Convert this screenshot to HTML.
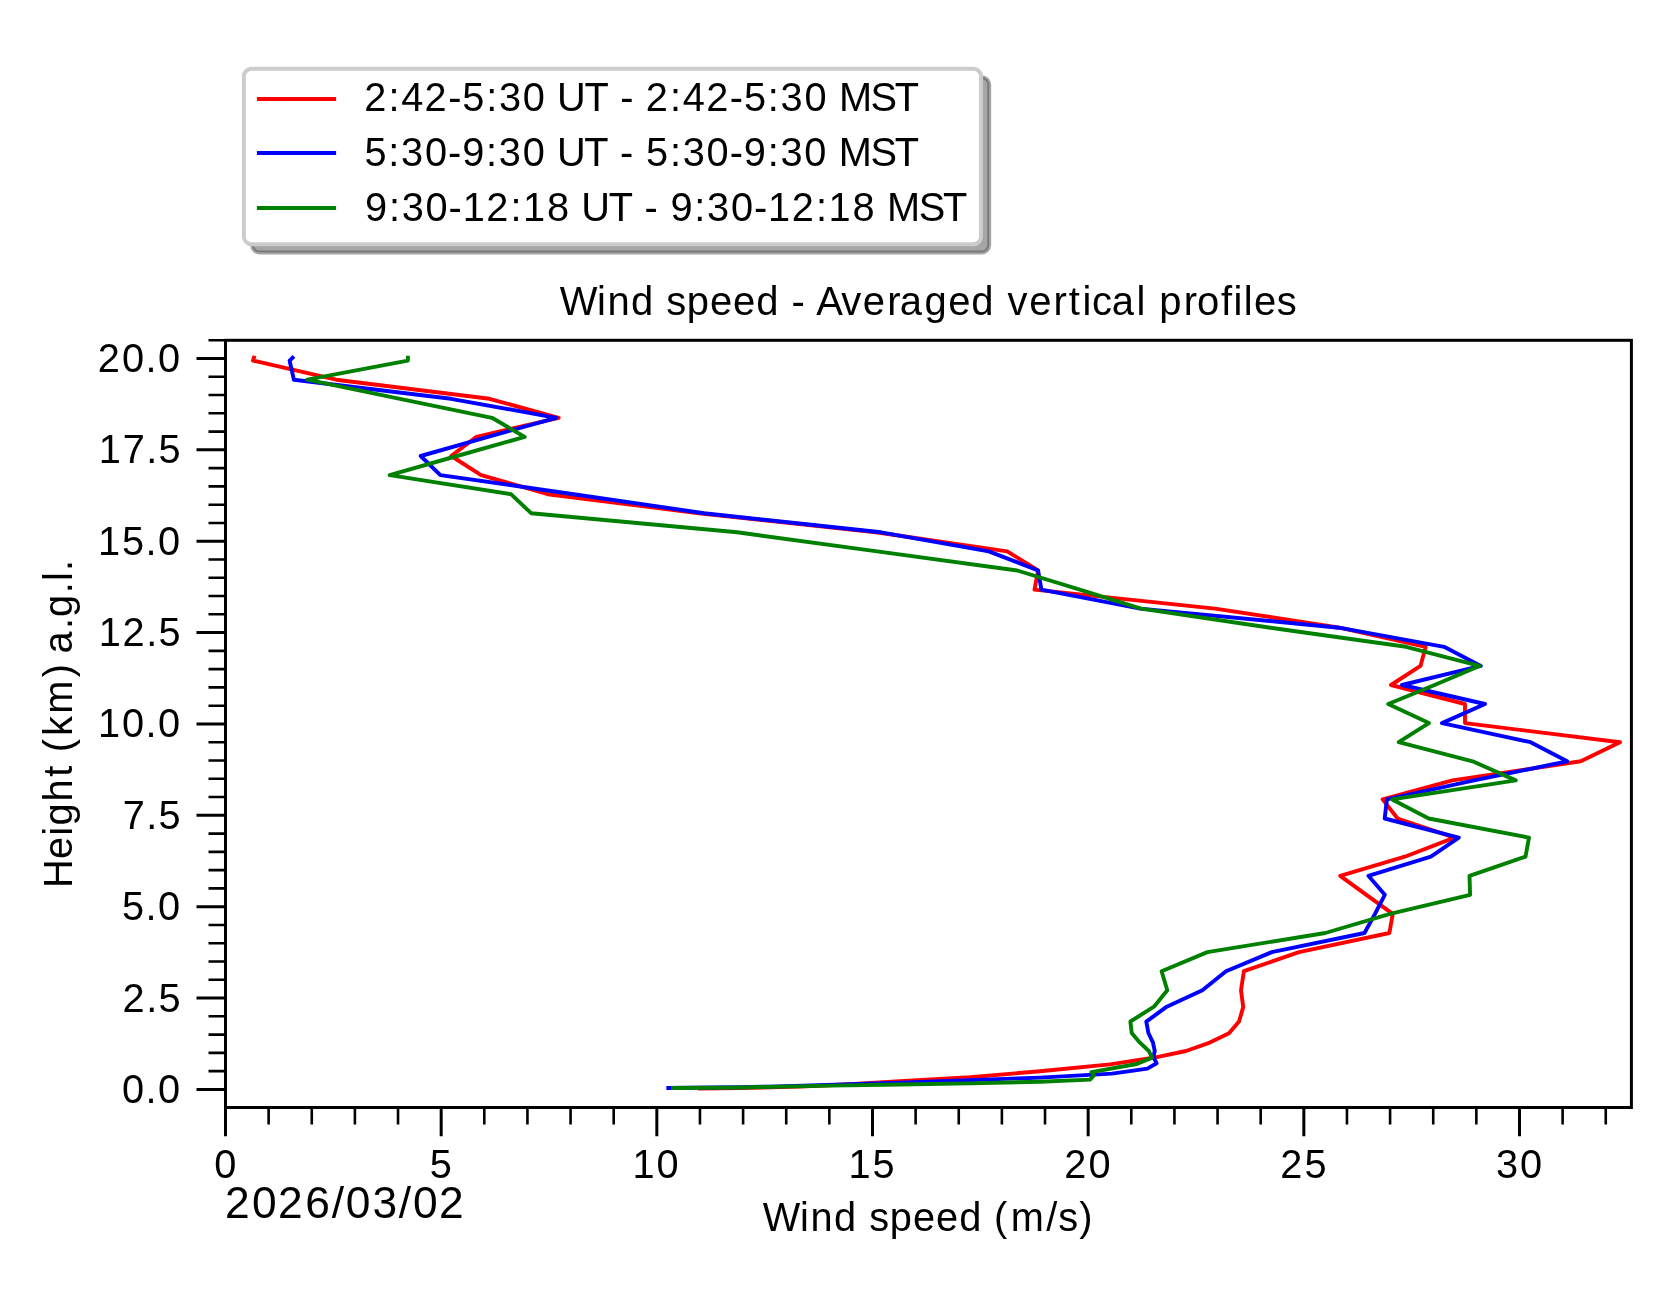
<!DOCTYPE html><html><head><meta charset="utf-8"><style>html,body{margin:0;padding:0;background:#fff;overflow:hidden}svg{display:block;will-change:transform}</style></head><body><svg width="1676" height="1303" viewBox="0 0 1676 1303">
<rect width="1676" height="1303" fill="#fff"/>
<path d="M196.5,1089.40H225.5M196.5,998.04H225.5M196.5,906.68H225.5M196.5,815.31H225.5M196.5,723.95H225.5M196.5,632.59H225.5M196.5,541.23H225.5M196.5,449.86H225.5M196.5,358.50H225.5" stroke="#000" stroke-width="3" fill="none"/>
<path d="M208.5,1071.13H225.5M208.5,1052.86H225.5M208.5,1034.58H225.5M208.5,1016.31H225.5M208.5,979.77H225.5M208.5,961.49H225.5M208.5,943.22H225.5M208.5,924.95H225.5M208.5,888.40H225.5M208.5,870.13H225.5M208.5,851.86H225.5M208.5,833.59H225.5M208.5,797.04H225.5M208.5,778.77H225.5M208.5,760.50H225.5M208.5,742.22H225.5M208.5,705.68H225.5M208.5,687.41H225.5M208.5,669.13H225.5M208.5,650.86H225.5M208.5,614.32H225.5M208.5,596.04H225.5M208.5,577.77H225.5M208.5,559.50H225.5M208.5,522.95H225.5M208.5,504.68H225.5M208.5,486.41H225.5M208.5,468.14H225.5M208.5,431.59H225.5M208.5,413.32H225.5M208.5,395.05H225.5M208.5,376.77H225.5M208.5,340.23H225.5" stroke="#000" stroke-width="2.6" fill="none"/>
<path d="M225.50,1107.5V1136.3M441.17,1107.5V1136.3M656.83,1107.5V1136.3M872.50,1107.5V1136.3M1088.16,1107.5V1136.3M1303.83,1107.5V1136.3M1519.49,1107.5V1136.3" stroke="#000" stroke-width="3" fill="none"/>
<path d="M268.63,1107.5V1124.4M311.77,1107.5V1124.4M354.90,1107.5V1124.4M398.03,1107.5V1124.4M484.30,1107.5V1124.4M527.43,1107.5V1124.4M570.56,1107.5V1124.4M613.70,1107.5V1124.4M699.96,1107.5V1124.4M743.10,1107.5V1124.4M786.23,1107.5V1124.4M829.36,1107.5V1124.4M915.63,1107.5V1124.4M958.76,1107.5V1124.4M1001.89,1107.5V1124.4M1045.03,1107.5V1124.4M1131.29,1107.5V1124.4M1174.43,1107.5V1124.4M1217.56,1107.5V1124.4M1260.69,1107.5V1124.4M1346.96,1107.5V1124.4M1390.09,1107.5V1124.4M1433.22,1107.5V1124.4M1476.36,1107.5V1124.4M1562.62,1107.5V1124.4M1605.76,1107.5V1124.4" stroke="#000" stroke-width="2.6" fill="none"/>
<path d="M253.9,357.6 L253.0,360.6 L336.0,379.7 L489.5,398.8 L558.7,417.8 L476.4,436.9 L451.2,456.0 L481.1,475.1 L547.8,494.2 L699.0,513.2 L876.0,532.3 L1007.2,551.4 L1038.1,570.5 L1034.5,589.6 L1215.0,608.6 L1339.5,627.7 L1425.7,646.8 L1420.5,665.9 L1391.0,685.0 L1465.0,704.0 L1465.0,723.1 L1620.0,742.2 L1580.8,761.3 L1452.4,780.4 L1382.6,799.4 L1397.6,818.5 L1454.5,837.6 L1404.8,856.7 L1340.2,875.8 L1366.4,894.8 L1392.7,913.9 L1389.4,933.0 L1299.0,952.1 L1243.9,971.2 L1241.0,990.2 L1243.2,1007.1 L1239.0,1021.6 L1229.0,1033.2 L1209.8,1042.6 L1186.0,1051.0 L1153.4,1057.8 L1110.0,1064.4 L1040.0,1071.3 L970.0,1077.2 L900.0,1081.3 L850.0,1084.3 L800.0,1086.6 L740.0,1088.0 L700.0,1088.6" stroke="#ff0000" stroke-width="3.9" fill="none" stroke-linejoin="round" stroke-linecap="square"/>
<path d="M292.5,357.8 L289.6,360.6 L293.9,379.7 L451.0,398.8 L556.3,417.8 L488.0,436.9 L420.7,456.0 L440.4,475.1 L573.7,494.2 L704.0,513.2 L881.0,532.3 L988.8,551.4 L1038.1,570.5 L1041.4,589.6 L1140.3,608.6 L1339.0,627.7 L1444.1,646.8 L1480.8,665.9 L1402.0,685.0 L1485.0,704.0 L1442.0,723.1 L1530.6,742.2 L1567.2,761.3 L1474.0,780.4 L1386.9,799.4 L1384.7,818.5 L1458.8,837.6 L1430.9,856.7 L1368.4,875.8 L1384.8,894.8 L1375.0,913.9 L1364.5,933.0 L1271.8,952.1 L1226.0,971.2 L1202.4,990.2 L1166.8,1006.7 L1146.3,1021.6 L1148.4,1033.0 L1153.0,1042.6 L1154.7,1050.8 L1153.5,1057.3 L1156.6,1063.2 L1147.4,1068.6 L1112.0,1073.6 L1040.0,1077.6 L900.0,1082.8 L770.0,1086.6 L740.0,1087.3 L668.3,1088.0" stroke="#0000ff" stroke-width="3.9" fill="none" stroke-linejoin="round" stroke-linecap="square"/>
<path d="M407.9,357.8 L407.9,360.6 L307.2,379.7 L400.0,398.8 L491.9,417.8 L524.7,436.9 L457.0,456.0 L389.7,475.1 L511.0,494.2 L531.1,513.2 L737.2,532.3 L877.2,551.4 L1017.2,570.5 L1079.8,589.6 L1141.0,608.6 L1270.5,627.7 L1406.0,646.8 L1479.5,665.9 L1434.6,685.0 L1388.2,704.0 L1428.9,723.1 L1398.7,742.2 L1472.6,761.3 L1515.8,780.4 L1392.2,799.4 L1428.7,818.5 L1529.0,837.6 L1525.5,856.7 L1469.5,875.8 L1470.1,894.8 L1390.1,913.9 L1325.3,933.0 L1207.4,952.1 L1161.6,971.2 L1167.3,990.2 L1154.0,1006.7 L1130.4,1021.5 L1131.7,1033.0 L1139.7,1042.4 L1148.8,1051.0 L1152.1,1057.6 L1136.8,1064.0 L1091.4,1072.1 L1093.9,1075.5 L1090.1,1079.6 L1040.0,1081.7 L970.0,1083.4 L900.0,1084.5 L830.0,1085.6 L740.0,1087.5 L673.0,1088.0" stroke="#008000" stroke-width="3.9" fill="none" stroke-linejoin="round" stroke-linecap="square"/>
<rect x="225.5" y="340.3" width="1405.9" height="767.2" fill="none" stroke="#000" stroke-width="3"/>
<path d="M259.60,77.10H981.70A7.5,7.5 0 0 1 989.20,84.60V245.00A7.5,7.5 0 0 1 981.70,252.50H259.60A7.5,7.5 0 0 1 252.10,245.00V84.60A7.5,7.5 0 0 1 259.60,77.10Z" fill="rgba(77,77,77,0.5)" stroke="rgba(77,77,77,0.5)" stroke-width="3.9"/>
<path d="M251.40,68.80H973.50A7.5,7.5 0 0 1 981.00,76.30V236.70A7.5,7.5 0 0 1 973.50,244.20H251.40A7.5,7.5 0 0 1 243.90,236.70V76.30A7.5,7.5 0 0 1 251.40,68.80Z" fill="#fff" stroke="#cccccc" stroke-width="3.9"/>
<path d="M256.9,98.9H336.1" stroke="#ff0000" stroke-width="4"/>
<path d="M256.9,152.9H336.1" stroke="#0000ff" stroke-width="4"/>
<path d="M256.9,207.9H336.1" stroke="#008000" stroke-width="4"/>
<text transform="scale(1.0052,1)" x="556.77 593.89 604.32 627.69 650.80 662.70 683.11 706.28 729.23 752.25 775.36 787.34 800.68 812.04 836.93 858.41 882.61 895.16 919.63 943.24 966.26 989.37 1002.34 1023.81 1048.02 1063.30 1077.02 1086.47 1106.07 1130.74 1140.33 1153.21 1177.63 1190.72 1214.69 1227.09 1237.44 1247.54 1270.04" y="315.10" font-size="39.74" font-family="Liberation Sans, sans-serif">Wind speed - Averaged vertical profiles</text>
<text transform="scale(1.0000,1)" x="762.73 799.97 810.49 833.97 857.15 869.17 889.69 912.97 936.04 959.18 982.36 993.97 1010.72 1046.23 1058.17 1079.31" y="1230.90" font-size="39.74" font-family="Liberation Sans, sans-serif">Wind speed (m/s)</text>
<text transform="scale(1.0021,1)" x="224.45 251.51 277.47 304.52 330.96 345.06 371.63 398.01 412.11 438.07" y="1218.20" font-size="44.24" font-family="Liberation Sans, sans-serif">2026/03/02</text>
<text transform="scale(1.0000,1)" x="364.23 388.52 401.21 424.58 448.21 462.32 486.26 499.01 522.82 545.81 557.10 584.50 608.08 620.15 633.53 645.83 670.12 682.81 706.18 729.81 743.92 767.86 780.61 804.42 827.40 838.96 870.53 894.81" y="111.10" font-size="39.74" font-family="Liberation Sans, sans-serif">2:42-5:30 UT - 2:42-5:30 MST</text>
<text transform="scale(1.0000,1)" x="364.43 388.37 401.12 424.93 448.07 462.20 486.11 498.86 522.67 545.66 556.95 584.35 607.93 620.00 633.38 646.03 669.97 682.72 706.53 729.66 743.80 767.71 780.46 804.27 827.26 838.81 870.38 894.66" y="166.00" font-size="39.74" font-family="Liberation Sans, sans-serif">5:30-9:30 UT - 5:30-9:30 MST</text>
<text transform="scale(1.0000,1)" x="364.99 388.90 401.65 425.46 448.60 462.65 486.21 510.50 523.00 547.06 570.05 581.34 608.74 632.32 644.39 657.77 670.45 694.36 707.11 730.92 754.05 768.10 791.67 815.96 828.45 852.52 875.51 887.06 918.63 942.91" y="221.00" font-size="39.74" font-family="Liberation Sans, sans-serif">9:30-12:18 UT - 9:30-12:18 MST</text>
<text transform="scale(1.0000,1)" x="122.12 145.53 157.90" y="1102.90" font-size="39.74" font-family="Liberation Sans, sans-serif">0.0</text>
<text transform="scale(1.0000,1)" x="122.42 146.32 158.55" y="1011.54" font-size="39.74" font-family="Liberation Sans, sans-serif">2.5</text>
<text transform="scale(1.0000,1)" x="121.98 145.53 157.90" y="920.18" font-size="39.74" font-family="Liberation Sans, sans-serif">5.0</text>
<text transform="scale(1.0000,1)" x="122.84 146.32 158.55" y="828.81" font-size="39.74" font-family="Liberation Sans, sans-serif">7.5</text>
<text transform="scale(1.0000,1)" x="98.06 122.12 145.53 157.90" y="737.45" font-size="39.74" font-family="Liberation Sans, sans-serif">10.0</text>
<text transform="scale(1.0000,1)" x="98.85 122.42 146.32 158.55" y="646.09" font-size="39.74" font-family="Liberation Sans, sans-serif">12.5</text>
<text transform="scale(1.0000,1)" x="98.06 121.98 145.53 157.90" y="554.73" font-size="39.74" font-family="Liberation Sans, sans-serif">15.0</text>
<text transform="scale(1.0000,1)" x="98.85 122.84 146.32 158.55" y="463.36" font-size="39.74" font-family="Liberation Sans, sans-serif">17.5</text>
<text transform="scale(1.0000,1)" x="97.77 122.12 145.53 157.90" y="372.00" font-size="39.74" font-family="Liberation Sans, sans-serif">20.0</text>
<text transform="scale(1.0000,1)" x="214.15" y="1177.90" font-size="39.74" font-family="Liberation Sans, sans-serif">0</text>
<text transform="scale(1.0000,1)" x="429.85" y="1177.90" font-size="39.74" font-family="Liberation Sans, sans-serif">5</text>
<text transform="scale(1.0000,1)" x="632.52 656.59" y="1177.90" font-size="39.74" font-family="Liberation Sans, sans-serif">10</text>
<text transform="scale(1.0000,1)" x="848.58 872.50" y="1177.90" font-size="39.74" font-family="Liberation Sans, sans-serif">15</text>
<text transform="scale(1.0000,1)" x="1064.25 1088.60" y="1177.90" font-size="39.74" font-family="Liberation Sans, sans-serif">20</text>
<text transform="scale(1.0000,1)" x="1280.31 1304.52" y="1177.90" font-size="39.74" font-family="Liberation Sans, sans-serif">25</text>
<text transform="scale(1.0000,1)" x="1496.07 1519.88" y="1177.90" font-size="39.74" font-family="Liberation Sans, sans-serif">30</text>
<text transform="translate(72.05,884.10) rotate(-90) scale(1.0000,1)" x="-3.94 25.08 48.40 58.64 82.67 107.31 120.28 131.90 148.04 170.36 206.78 219.71 230.65 255.03 267.16 290.75 303.05 313.09" y="0" font-size="39.74" font-family="Liberation Sans, sans-serif">Height (km) a.g.l.</text>
</svg></body></html>
